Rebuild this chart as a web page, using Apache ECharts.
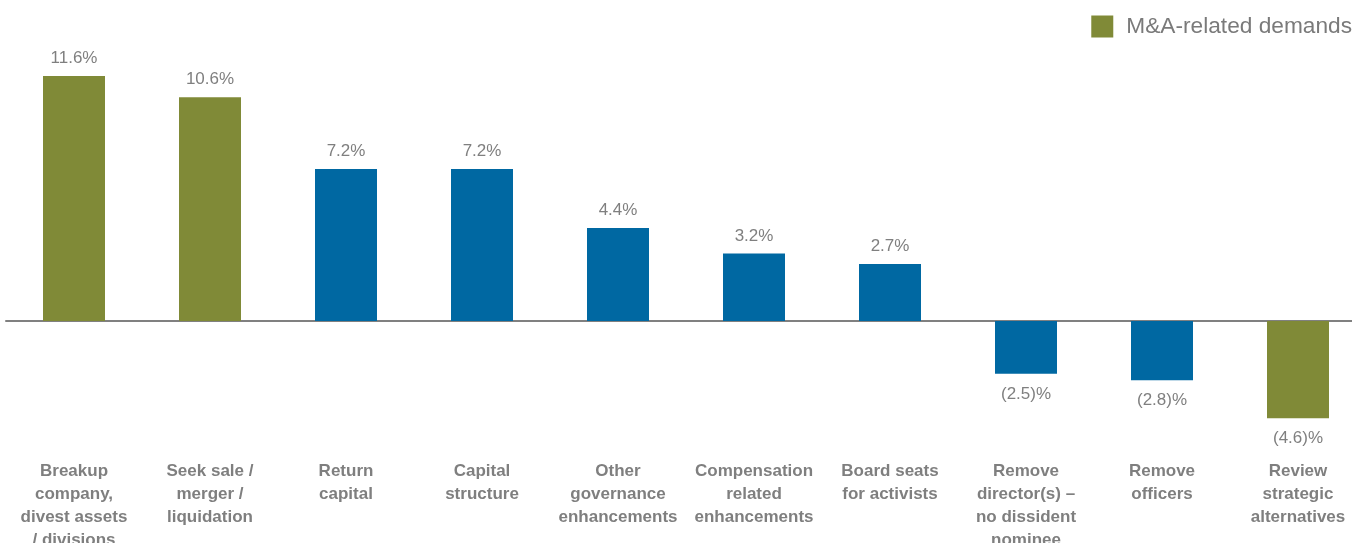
<!DOCTYPE html>
<html><head><meta charset="utf-8">
<script src="https://cdn.jsdelivr.net/npm/echarts@6/dist/echarts.min.js"></script>
<style>html,body{margin:0;padding:0;background:#fff}#c{width:1352px;height:543px}</style>
</head><body><div id="c"></div>
<script>
const categories = ["Breakup\ncompany,\ndivest assets\n/ divisions","Seek sale /\nmerger /\nliquidation","Return\ncapital","Capital\nstructure","Other\ngovernance\nenhancements","Compensation\nrelated\nenhancements","Board seats\nfor activists","Remove\ndirector(s) –\nno dissident\nnominee","Remove\nofficers","Review\nstrategic\nalternatives"];
const mnaValues = [11.6, 10.6, null, null, null, null, null, null, null, -4.6];
const otherValues = [null, null, 7.2, 7.2, 4.4, 3.2, 2.7, -2.5, -2.8, null];
const legendName = "M&A-related demands";

const fmt = p => p.value < 0 ? '(' + Math.abs(p.value).toFixed(1) + ')%' : p.value.toFixed(1) + '%';
const lbl = {show: true, position: 'top', distance: 9, color: '#7f7f7f', fontSize: 17, fontFamily: 'Liberation Sans', formatter: fmt};
function mkData(arr){
  return arr.map(v => v === null ? null : {value: v, label: v < 0 ? {position: 'bottom', distance: 12} : {position: 'top', distance: 9}});
}
const chart = echarts.init(document.getElementById('c'));
chart.setOption({
  animation: false,
  textStyle: {fontFamily: 'Liberation Sans'},
  legend: {data: [legendName], right: 0, top: 15, padding: 0, itemWidth: 22, itemHeight: 22, itemGap: 10,
    textStyle: {fontSize: 22.7, color: '#7a7a7a', fontFamily: 'Liberation Sans', padding: [0, 0, 0, 8]}, icon: 'rect'},
  grid: {left: 6, width: 1360, top: 67.6, bottom: 116.4, containLabel: false, outerBoundsMode: 'none'},
  xAxis: [
    {type: 'category', data: categories, position: 'bottom',
     axisLine: {onZero: true, lineStyle: {color: '#808080', width: 2}},
     axisTick: {show: false}, axisLabel: {show: false}},
    {type: 'category', data: categories, position: 'bottom',
     axisLine: {show: false, onZero: false}, axisTick: {show: false},
     axisLabel: {show: true, interval: 0, margin: 33, color: '#7f7f7f', fontSize: 17, fontWeight: 'bold', lineHeight: 23, fontFamily: 'Liberation Sans'}}
  ],
  yAxis: {type: 'value', min: -5, max: 12, show: false, splitLine: {show: false}},
  series: [
    {name: legendName, type: 'bar', stack: 's', data: mkData(mnaValues), barWidth: 62,
     itemStyle: {color: '#808a37'}, label: lbl},
    {name: 'Other demands', type: 'bar', stack: 's', data: mkData(otherValues), barWidth: 62,
     itemStyle: {color: '#0068a2'}, label: lbl}
  ]
});
</script></body></html>
